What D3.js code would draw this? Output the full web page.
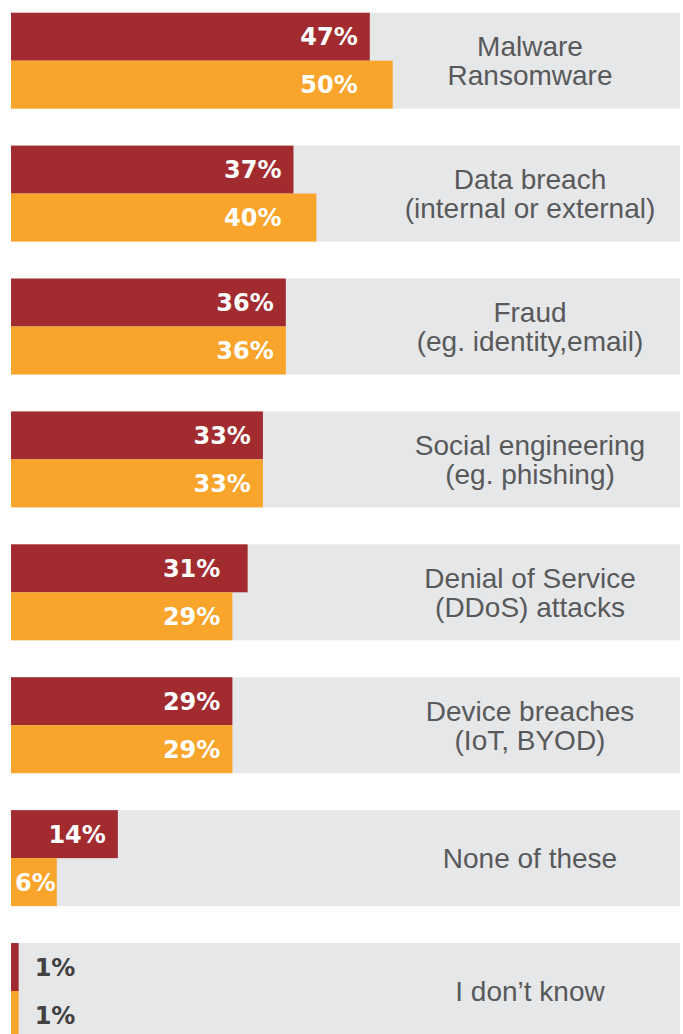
<!DOCTYPE html>
<html>
<head>
<meta charset="utf-8">
<script src="https://cdn.jsdelivr.net/npm/d3@7"></script>
<style>
  html, body { margin: 0; padding: 0; background: #ffffff; }
  svg { display: block; }
</style>
</head>
<body>
<svg id="chart" width="683" height="1034"></svg>
<script>
// Threat categories (each label split into its display lines)
const categories = [
  ["Malware", "Ransomware"],
  ["Data breach", "(internal or external)"],
  ["Fraud", "(eg. identity,email)"],
  ["Social engineering", "(eg. phishing)"],
  ["Denial of Service", "(DDoS) attacks"],
  ["Device breaches", "(IoT, BYOD)"],
  ["None of these"],
  ["I don\u2019t know"]
];

// Share of respondents (%) for the two series in each category
const seriesA = [47, 37, 36, 33, 31, 29, 14, 1];
const seriesB = [50, 40, 36, 33, 29, 29, 6, 1];

const colorA = "#a22b2f";
const colorB = "#f9a42b";
const bandColor = "#e6e7e8";

const svg = d3.select("#chart");
const keys = categories.map((c, i) => i);

// Vertical bands for the categories
const y = d3.scaleBand()
  .domain(keys)
  .range([12.7, 1039])
  .paddingInner(0.278)
  .paddingOuter(0);

// Horizontal value scale
const x = d3.scaleLinear().domain([0, 50]).range([11, 392.7]);

const bandRight = 680;
const labelFont = "'DejaVu Sans', sans-serif";
const catFont = "'Liberation Sans', Arial, sans-serif";

const groups = svg.selectAll("g.group")
  .data(keys)
  .join("g")
  .attr("class", "group")
  .attr("transform", d => `translate(0,${y(d)})`);

// Grey background band
groups.append("rect")
  .attr("x", x(0))
  .attr("y", 0)
  .attr("width", bandRight - x(0))
  .attr("height", y.bandwidth())
  .attr("fill", bandColor);

const half = y.bandwidth() / 2;

// Bars: series A on top, series B below
groups.each(function(i) {
  const g = d3.select(this);
  const bars = [
    { v: seriesA[i], c: colorA, y0: 0 },
    { v: seriesB[i], c: colorB, y0: half }
  ];
  g.selectAll("rect.bar")
    .data(bars)
    .join("rect")
    .attr("class", "bar")
    .attr("x", x(0))
    .attr("y", d => d.y0)
    .attr("width", d => x(d.v) - x(0))
    .attr("height", half)
    .attr("fill", d => d.c);

  // Value labels: aligned to the shorter bar's end when they fit
  const minEnd = Math.min(x(seriesA[i]), x(seriesB[i]));
  bars.forEach(d => {
    const t = g.append("text")
      .attr("y", d.y0 + half / 2 + 8.7)
      .attr("font-family", labelFont)
      .attr("font-weight", "bold")
      .attr("font-size", 24)
      .text(d.v + "%");
    const w = t.node().getComputedTextLength();
    const end = x(d.v);
    if (minEnd - 12 - w >= x(0) + 4) {
      t.attr("x", minEnd - 12).attr("text-anchor", "end").attr("fill", "#ffffff");
    } else if (end - 12 - w >= x(0) + 4) {
      t.attr("x", end - 12).attr("text-anchor", "end").attr("fill", "#ffffff");
    } else if (end - x(0) >= w) {
      t.attr("x", x(0) + 4).attr("text-anchor", "start").attr("fill", "#ffffff");
    } else {
      t.attr("x", end + 16).attr("text-anchor", "start").attr("fill", "#414042");
    }
  });

  // Category label, centred in the right part of the band
  const lines = categories[i];
  const lh = 29;
  const base = half + 10 - (lines.length - 1) * lh / 2;
  const lbl = g.append("text")
    .attr("font-family", catFont)
    .attr("font-size", 28)
    .attr("fill", "#58595b")
    .attr("text-anchor", "middle");
  lines.forEach((s, k) => {
    lbl.append("tspan")
      .attr("x", 530)
      .attr("y", base + k * lh)
      .text(s);
  });
});
</script>
</body>
</html>
